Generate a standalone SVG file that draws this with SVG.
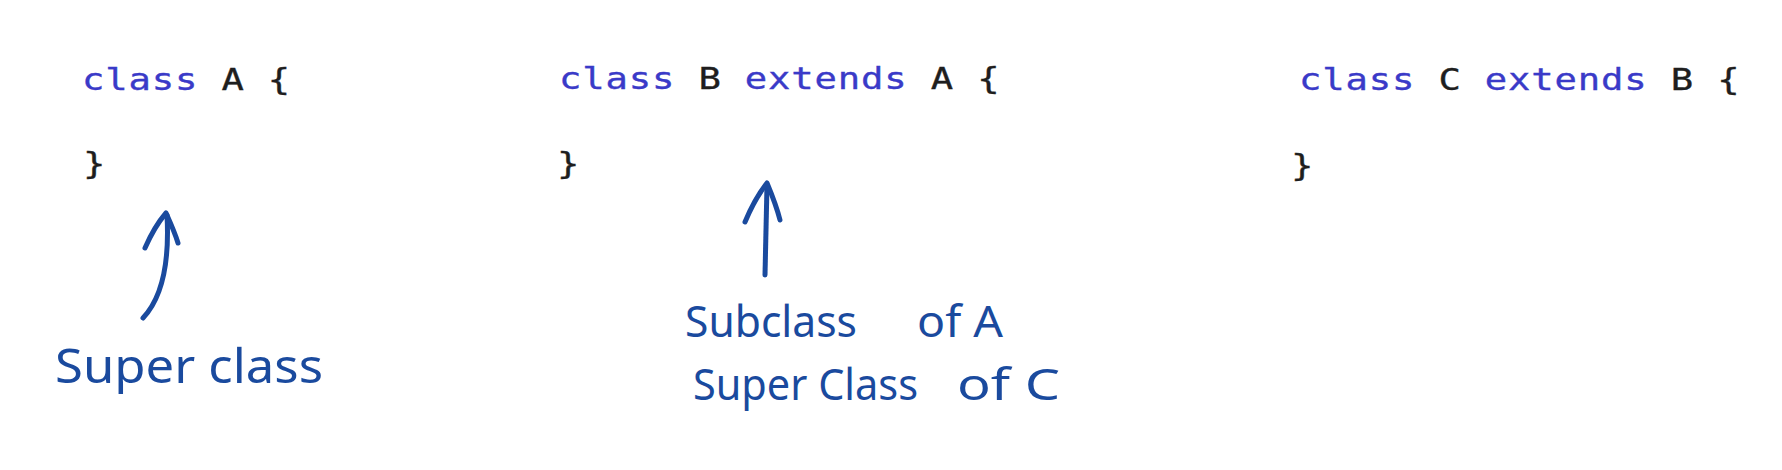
<svg xmlns="http://www.w3.org/2000/svg" width="1782" height="470" viewBox="0 0 1782 470">
<defs>
<style>
.code{font-family:"DejaVu Sans Mono","Liberation Mono",monospace;font-size:31px;letter-spacing:0.7px;fill:#1e1e1e;stroke:#1e1e1e;stroke-width:0.35}
.kw{fill:#3a3ac8;stroke:#3a3ac8}
.hand{font-family:"Noto Sans","DejaVu Sans",sans-serif;fill:#1a4a9e}
.pen{fill:none;stroke:#1a4a9e;stroke-width:5;stroke-linecap:round;stroke-linejoin:round}
</style>
</defs>
<rect width="1782" height="470" fill="#ffffff"/>
<g id="classA">
<text class="code" transform="translate(82,90) scale(1.2,1)"><tspan class="kw">class</tspan> A {</text>
<text class="code" transform="translate(83,174) scale(1.2,1)">}</text>
</g>
<g id="classB">
<text class="code" transform="translate(559,89) scale(1.2,1)"><tspan class="kw">class</tspan> B <tspan class="kw">extends</tspan> A {</text>
<text class="code" transform="translate(557,174) scale(1.2,1)">}</text>
</g>
<g id="classC">
<text class="code" transform="translate(1299,90) scale(1.2,1)"><tspan class="kw">class</tspan> C <tspan class="kw">extends</tspan> B {</text>
<text class="code" transform="translate(1291,176) scale(1.2,1)">}</text>
</g>
<g id="connectors">
<path class="pen" d="M143,318 C160,300 170,270 167,215"/>
<path class="pen" d="M145,248 C152,232 160,220 166,213 C170,222 175,233 178,243"/>
<path class="pen" d="M765,275 L767,185"/>
<path class="pen" d="M745,222 C752,205 760,192 767,183 C772,195 777,208 780,220"/>
</g>
<g id="label-superclass">
<text class="hand" x="55" y="383" font-size="48" textLength="268" lengthAdjust="spacingAndGlyphs">Super class</text>
</g>
<g id="label-subclass">
<text class="hand" x="685" y="337" font-size="44" textLength="172" lengthAdjust="spacingAndGlyphs">Subclass</text>
<text class="hand" x="917" y="337" font-size="44" textLength="86" lengthAdjust="spacingAndGlyphs">of A</text>
<text class="hand" x="693" y="400" font-size="44" textLength="225" lengthAdjust="spacingAndGlyphs">Super Class</text>
<text class="hand" x="957" y="400" font-size="44" textLength="103" lengthAdjust="spacingAndGlyphs">of C</text>
</g>
</svg>
